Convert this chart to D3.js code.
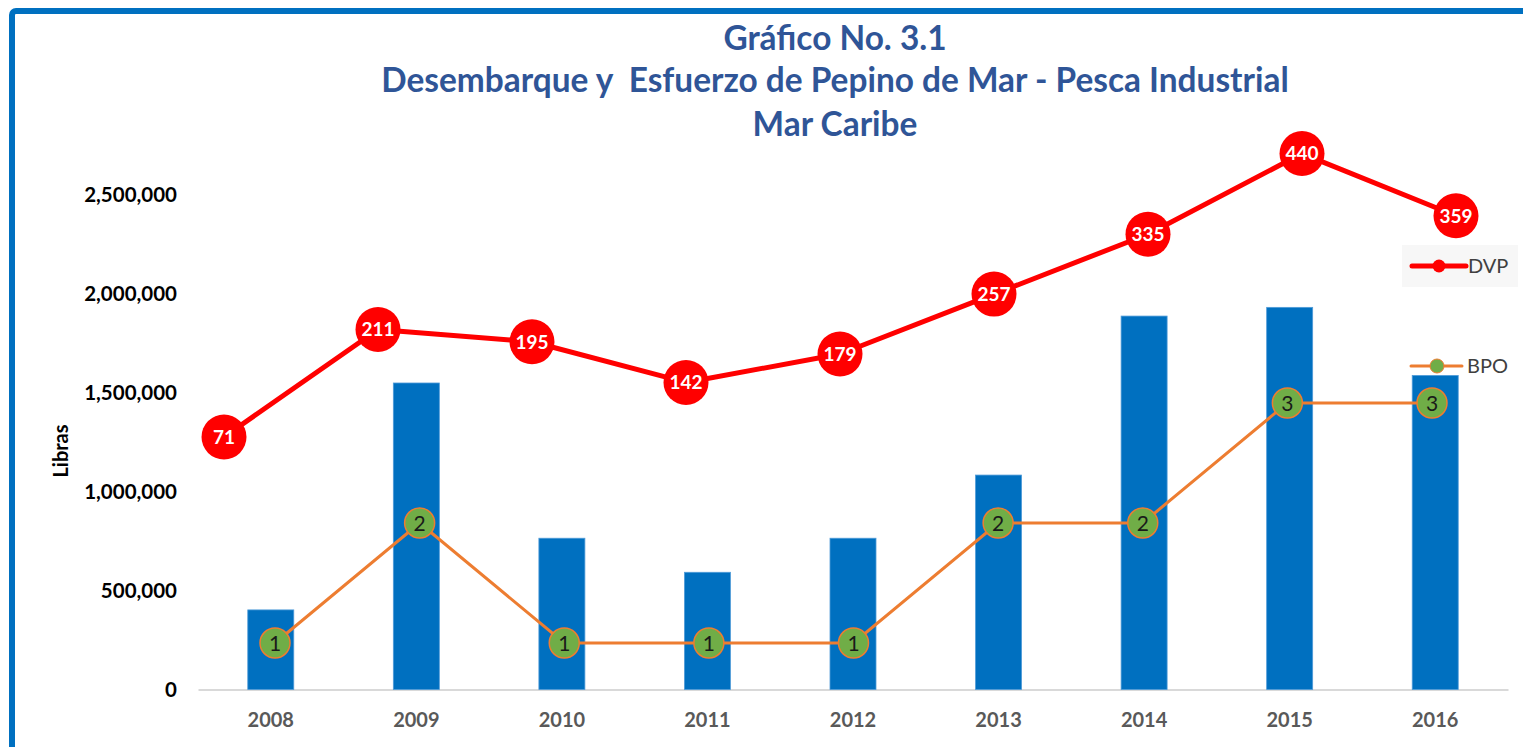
<!DOCTYPE html>
<html><head><meta charset="utf-8">
<script src="https://cdn.jsdelivr.net/npm/d3@7"></script>
<style>
html,body{margin:0;padding:0;background:#fff;}
svg{display:block;font-family:Lato,"Open Sans",sans-serif;}
</style></head>
<body>
<svg id="c" width="1523" height="747"></svg>
<script>
const years = ["2008","2009","2010","2011","2012","2013","2014","2015","2016"];
const libras = [402000,1548000,764000,592000,764000,1083000,1886000,1930000,1586000];
const dvp = [71,211,195,142,179,257,335,440,359];
const bpo = [1,2,1,1,1,2,2,3,3];
const yTicks = [0,500000,1000000,1500000,2000000,2500000];
const titleLines = ["Gráfico No. 3.1","Desembarque y  Esfuerzo de Pepino de Mar - Pesca Industrial","Mar Caribe"];

const svg = d3.select("#c");
svg.append("rect").attr("width",1523).attr("height",747).attr("fill","#fff");
// frame
svg.append("rect").attr("x",12).attr("y",11).attr("width",1700).attr("height",1000)
  .attr("rx",4).attr("fill","none").attr("stroke","#0070C0").attr("stroke-width",6);

const plot = {left:198, right:1508, top:194.5, bottom:689.5};

const x = d3.scaleBand().domain(years).range([plot.left, plot.right]).padding(0);
const y = d3.scaleLinear().domain([0,2500000]).range([plot.bottom, plot.top]);
const xDVP = d3.scalePoint().domain(years).range([224,1456]);
const yDVP = d3.scaleLinear().domain([0,500]).range([491.5,107.5]);
const xBPO = d3.scalePoint().domain(years).range([275,1432]);
const yBPO = d3.scaleLinear().domain([0,4]).range([763,283]);

// title
const tg = svg.append("g");
const tBase = [50,92,136];
titleLines.forEach((t,i)=>{
  tg.append("text").attr("x",835).attr("y",tBase[i]).attr("text-anchor","middle")
    .style("white-space","pre").attr("xml:space","preserve")
    .attr("fill","#2F5597").attr("font-weight","bold").attr("font-size",28).text(t);
});
// fit line 2 width to ~908
{
  const n = tg.selectAll("text").nodes()[1];
  const w = n.getComputedTextLength();
  const s = 28*908/w;
  tg.selectAll("text").attr("font-size",s);
}

// y axis labels
const yAxis = d3.axisLeft(y).tickValues(yTicks).tickSize(0).tickPadding(0)
  .tickFormat(d3.format(","));
const ya = svg.append("g").attr("transform","translate(177,0)").call(yAxis);
ya.select(".domain").remove();
ya.selectAll("text").attr("font-size",20.5).attr("font-weight","bold").attr("fill","#000")
  .attr("font-family","Lato,sans-serif");

// x axis
const xAxis = d3.axisBottom(x).tickSize(0).tickPadding(0);
const xa = svg.append("g").attr("transform",`translate(0,${plot.bottom})`).call(xAxis);
xa.select(".domain").attr("stroke","#D9D9D9").attr("stroke-width",2);
xa.selectAll("text").attr("dy",null).attr("y",37).attr("font-size",20).attr("font-weight","bold")
  .attr("fill","#595959").attr("font-family","Lato,sans-serif");

// y title
svg.append("text").attr("transform","translate(68,451) rotate(-90)").attr("text-anchor","middle")
  .attr("font-size",20).attr("font-weight","bold").attr("fill","#000").text("Libras");

// bars
const bw = 46;
svg.append("g").selectAll("rect").data(years).join("rect")
  .attr("x",(d)=>x(d)+x.bandwidth()/2-bw/2)
  .attr("width",bw)
  .attr("y",(d,i)=>y(libras[i]))
  .attr("height",(d,i)=>y(0)-y(libras[i]))
  .attr("fill","#0070C0").attr("stroke","#4F9BD8").attr("stroke-width",0.8);

// BPO line
const lineB = d3.line().x((d,i)=>xBPO(years[i])).y(d=>yBPO(d));
svg.append("path").datum(bpo).attr("d",lineB).attr("fill","none")
  .attr("stroke","#ED7D31").attr("stroke-width",3);
const gb = svg.append("g").selectAll("g").data(bpo).join("g")
  .attr("transform",(d,i)=>`translate(${xBPO(years[i])},${yBPO(d)})`);
gb.append("circle").attr("r",15).attr("fill","#70AD47").attr("stroke","#ED7D31").attr("stroke-width",1.5);
gb.append("text").attr("text-anchor","middle").attr("dy","0.36em").attr("font-size",21)
  .attr("fill","#1a1a1a").attr("font-family","Lato,sans-serif").text(d=>d);

// DVP line
const lineD = d3.line().x((d,i)=>xDVP(years[i])).y(d=>yDVP(d));
svg.append("path").datum(dvp).attr("d",lineD).attr("fill","none")
  .attr("stroke","#FF0000").attr("stroke-width",5).attr("stroke-linejoin","round");
const gd = svg.append("g").selectAll("g").data(dvp).join("g")
  .attr("transform",(d,i)=>`translate(${xDVP(years[i])},${yDVP(d)})`);
gd.append("circle").attr("r",22.5).attr("fill","#FF0000");
gd.append("text").attr("text-anchor","middle").attr("dy","0.36em").attr("font-size",19)
  .attr("font-weight","bold").attr("fill","#fff").text(d=>d);

// legend
const lg = svg.append("g");
lg.append("rect").attr("x",1402).attr("y",245).attr("width",116).attr("height",42).attr("fill","#F7F7F7");
lg.append("line").attr("x1",1412).attr("x2",1466).attr("y1",266).attr("y2",266)
  .attr("stroke","#FF0000").attr("stroke-width",5).attr("stroke-linecap","round");
lg.append("circle").attr("cx",1439).attr("cy",266).attr("r",6.5).attr("fill","#FF0000");
lg.append("text").attr("x",1468).attr("y",273).attr("font-size",20).attr("fill","#404040").text("DVP");
lg.append("line").attr("x1",1411).attr("x2",1462).attr("y1",366).attr("y2",366)
  .attr("stroke","#ED7D31").attr("stroke-width",3).attr("stroke-linecap","round");
lg.append("circle").attr("cx",1437).attr("cy",366).attr("r",7).attr("fill","#70AD47").attr("stroke","#ED7D31").attr("stroke-width",1);
lg.append("text").attr("x",1467).attr("y",373).attr("font-size",20).attr("fill","#404040").text("BPO");
</script>
</body></html>
